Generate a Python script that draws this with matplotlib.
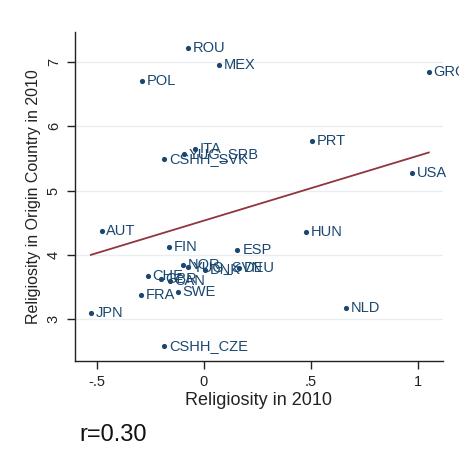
import numpy as np
import matplotlib
matplotlib.use("Agg")
import matplotlib.pyplot as plt

plt.rcParams['font.family'] = ['Liberation Sans', 'DejaVu Sans']

countries = ["ROU", "MEX", "POL", "GRC", "PRT", "USA", "ITA", "YUG_SRB", "CSHH_SVK",
             "AUT", "FIN", "ESP", "HUN", "NOR", "YUG_SVN", "DNK", "DEU",
             "CHE", "GBR", "CAN", "FRA", "SWE", "JPN", "NLD", "CSHH_CZE"]
relig_2010 = [-0.076, 0.072, -0.291, 1.051, 0.506, 0.973, -0.042, -0.093, -0.185,
              -0.478, -0.162, 0.157, 0.475, -0.098, -0.075, 0.005, 0.164,
              -0.262, -0.201, -0.159, -0.294, -0.123, -0.528, 0.664, -0.185]
relig_origin = [7.22, 6.95, 6.71, 6.84, 5.78, 5.27, 5.65, 5.57, 5.49,
                4.37, 4.13, 4.07, 4.35, 3.84, 3.81, 3.76, 3.79,
                3.68, 3.62, 3.60, 3.38, 3.42, 3.10, 3.18, 2.58]

navy = "#1a476f"
maroon = "#90353b"

fig = plt.figure(figsize=(4.59, 4.49), dpi=100)
ax = fig.add_axes([0.163, 0.196, 0.802, 0.733])

x = np.array(relig_2010)
y = np.array(relig_origin)
ax.scatter(x, y, s=14, color=navy, zorder=3, linewidths=0)
for name, xi, yi in zip(countries, x, y):
    ax.annotate(name, (xi, yi), xytext=(3.5, 0), textcoords="offset points",
                va="center", ha="left", fontsize=10.5, color=navy, zorder=4)

b, a = np.polyfit(x, y, 1)
xs = np.array([x.min(), x.max()])
ax.plot(xs, a + b * xs, color=maroon, lw=1.3, zorder=2)

ax.set_xlim(-0.603, 1.117)
ax.set_ylim(2.35, 7.47)
ax.set_xticks([-0.5, 0, 0.5, 1])
ax.set_xticklabels(["-.5", "0", ".5", "1"])
ax.set_yticks([3, 4, 5, 6, 7])
ax.set_yticklabels(["3", "4", "5", "6", "7"], rotation=90, va="center")
ax.tick_params(axis="both", direction="out", length=6, width=1, labelsize=10.5,
               pad=4, colors="#222222")
ax.yaxis.grid(True, color="#eaeef0", lw=1)
ax.set_axisbelow(True)
for s in ["top", "right"]:
    ax.spines[s].set_visible(False)
for s in ["left", "bottom"]:
    ax.spines[s].set_linewidth(1)
    ax.spines[s].set_color("#222222")

ax.set_xlabel("Religiosity in 2010", fontsize=13, color="#222222", labelpad=2)
ax.set_ylabel("Religiosity in Origin Country in 2010", fontsize=11.5, color="#222222", labelpad=4)

fig.text(0.174, 0.017, "r=0.30", fontsize=17, color="#111111")

fig.savefig("out.png", dpi=100)
